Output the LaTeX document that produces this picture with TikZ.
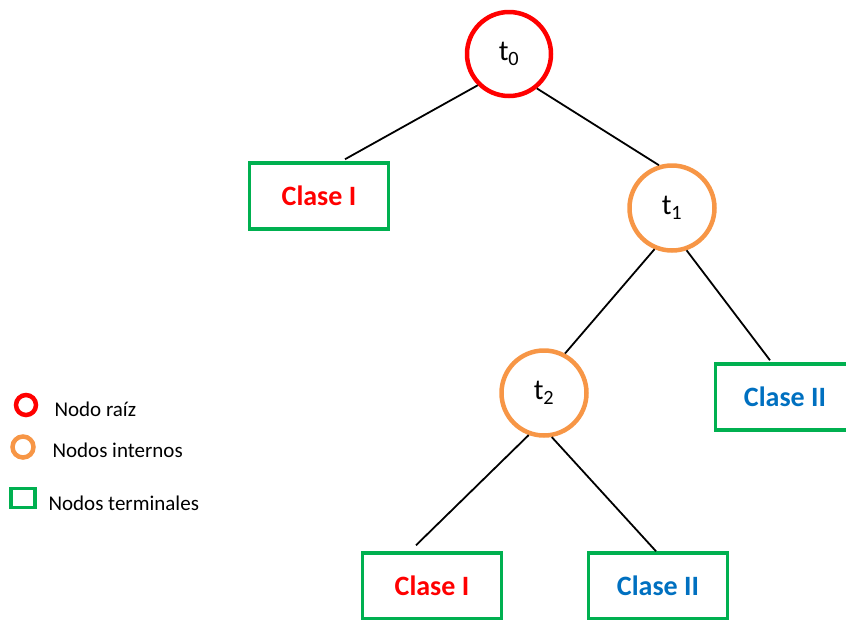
\documentclass[tikz,border=0pt]{standalone}
\usepackage{fontspec}
\setmainfont{Carlito}
\definecolor{raiz}{RGB}{255,0,0}
\definecolor{interno}{RGB}{247,150,70}
\definecolor{terminal}{RGB}{0,176,80}
\definecolor{azul}{RGB}{0,112,192}

\begin{document}
\begin{tikzpicture}[x=1pt,y=-1pt,
    root/.style={circle,draw=raiz,line width=4.5pt,minimum size=84pt,inner sep=0pt,font=\fontsize{29}{31}\selectfont},
    inner/.style={circle,draw=interno,line width=4.5pt,minimum size=85pt,inner sep=0pt,font=\fontsize{29}{31}\selectfont},
    leaf/.style={rectangle,draw=terminal,line width=3.5pt,minimum width=139pt,minimum height=66pt,font=\fontsize{28}{30}\selectfont\bfseries},
    edge/.style={line width=1.8pt}]
  \useasboundingbox (0,0) rectangle (846,619);
  \clip (0,0) rectangle (846,619);
  % Tree nodes
  \node[root]  (t0) at (509,54)  {t\textsubscript{0}};
  \node[inner] (t1) at (672,208) {t\textsubscript{1}};
  \node[inner] (t2) at (544,393) {t\textsubscript{2}};
  \node[leaf,text=raiz] (c1) at (319,196) {Clase I};
  \node[leaf,text=azul] (c2) at (785,397) {Clase II};
  \node[leaf,text=raiz] (c3) at (432,586) {Clase I};
  \node[leaf,text=azul] (c4) at (658,586) {Clase II};
  % Branches
  \draw[edge] (t0.225) -- ([xshift=26pt,yshift=2pt]c1.north);
  \draw[edge] (t0.309) -- (t1.107);
  \draw[edge] (t1.247) -- (t2.62);
  \draw[edge] (t1.289) -- ([xshift=-15pt,yshift=2pt]c2.north);
  \draw[edge] (t2.250) -- ([xshift=-16pt,yshift=6pt]c3.north);
  \draw[edge] (t2.280) -- ([xshift=-2pt]c4.north);
  % Legend
  \node[circle,draw=raiz,line width=4.5pt,minimum size=20pt,inner sep=0pt] (lr) at (26,405) {};
  \node[circle,draw=interno,line width=4.5pt,minimum size=21pt,inner sep=0pt] (li) at (23,447) {};
  \node[rectangle,draw=terminal,line width=3.5pt,minimum width=24pt,minimum height=19pt,inner sep=0pt] (lt) at (23,498) {};
  \node[anchor=west,font=\fontsize{21}{23}\selectfont] at (51,409) {Nodo raíz};
  \node[anchor=west,font=\fontsize{21}{23}\selectfont] at (49,450) {Nodos internos};
  \node[anchor=west,font=\fontsize{21}{23}\selectfont] at (45,503) {Nodos terminales};
\end{tikzpicture}
\end{document}
